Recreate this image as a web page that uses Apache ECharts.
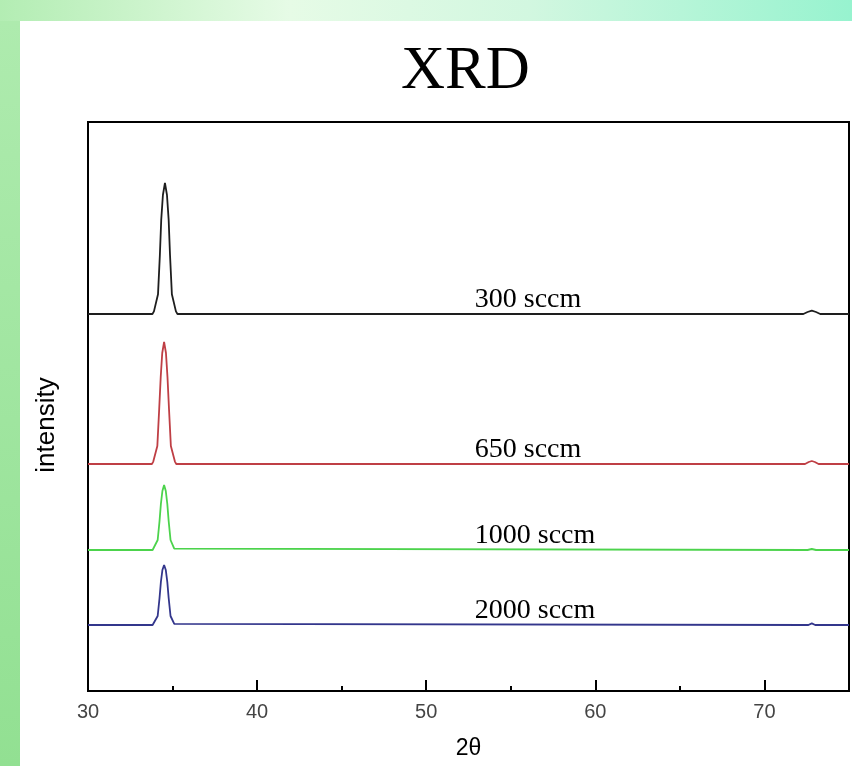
<!DOCTYPE html>
<html>
<head>
<meta charset="utf-8">
<title>XRD</title>
<script src="https://cdn.jsdelivr.net/npm/echarts@6/dist/echarts.min.js"></script>
<style>
  html, body { margin: 0; padding: 0; background: #fff; }
  #chart { width: 852px; height: 766px; }
</style>
</head>
<body>
<div id="chart"></div>
<script>
// sample names and where their labels sit (2θ, intensity)
var sampleNames = ['300 sccm', '650 sccm', '1000 sccm', '2000 sccm'];
var sampleColors = ['#1e1e1e', '#bf3f45', '#4cd34c', '#33368c'];
var labelX = [52.9, 52.9, 52.9, 52.9];
var labelY = [377, 227, 141, 66];

var xTicks = [30, 40, 50, 60, 70];

// curves: [2θ, intensity (offset, a.u.)]
var curve300 = [
    [30, 377], [33.81, 377], [33.9, 379.6], [34.14, 396.7], [34.25, 436], [34.33, 471],
    [34.43, 496], [34.55, 508], [34.67, 496], [34.77, 471], [34.85, 436], [34.96, 396.7],
    [35.2, 379.6], [35.29, 377], [41.9, 377], [42.0, 378.2], [42.1, 377],
    [72.3, 377], [72.55, 379], [72.8, 380.4], [73.05, 379], [73.3, 377], [75, 377]
];
var curve650 = [
    [30, 227], [33.78, 227], [33.86, 229.4], [34.1, 245], [34.21, 282], [34.3, 314],
    [34.39, 338], [34.5, 349], [34.61, 338], [34.7, 314], [34.79, 282], [34.9, 245],
    [35.14, 229.4], [35.22, 227], [72.4, 227], [72.62, 229], [72.8, 230], [72.98, 229], [73.2, 227], [75, 227]
];
var curve1000 = [
    [30, 141], [33.82, 141], [33.9, 142.3], [34.12, 151], [34.23, 170], [34.31, 187],
    [34.4, 200], [34.5, 206], [34.6, 200], [34.69, 187], [34.77, 170], [34.88, 151],
    [35.1, 142.3], [35.18, 141], [72.55, 141], [72.8, 142], [73.05, 141], [75, 141]
];
var curve2000 = [
    [30, 66], [33.82, 66], [33.9, 67.2], [34.12, 75], [34.23, 93], [34.31, 109],
    [34.4, 121], [34.5, 126], [34.6, 121], [34.69, 109], [34.77, 93], [34.88, 75],
    [35.1, 67.2], [35.18, 66], [72.6, 66], [72.8, 67.6], [73.0, 66], [75, 66]
];
var curves = [curve300, curve650, curve1000, curve2000];

var myChart = echarts.init(document.getElementById('chart'), null, { renderer: 'canvas' });

var series = curves.map(function (c, i) {
    return {
        name: sampleNames[i],
        type: 'line',
        data: c,
        showSymbol: false,
        silent: true,
        lineStyle: { color: sampleColors[i], width: 1.8 },
        z: 3
    };
});
// text labels next to each curve
series.push({
    type: 'scatter',
    symbolSize: 1,
    silent: true,
    itemStyle: { color: '#fff', opacity: 0 },
    data: sampleNames.map(function (n, i) { return [labelX[i], labelY[i], n]; }),
    label: {
        show: true,
        position: [0, 0],
        align: 'left',
        verticalAlign: 'bottom',
        formatter: function (p) { return p.data[2]; },
        fontFamily: '"Liberation Serif", "Times New Roman", serif',
        fontSize: 28,
        lineHeight: 28,
        color: '#000',
        opacity: 1
    },
    labelLayout: { hideOverlap: false },
    z: 4
});

var option = {
    backgroundColor: '#ffffff',
    animation: false,
    title: {
        text: 'XRD',
        left: 401,
        top: 42,
        padding: 0,
        textStyle: {
            fontFamily: '"Liberation Serif", "Times New Roman", serif',
            fontSize: 61,
            fontWeight: 'normal',
            lineHeight: 60,
            color: '#000'
        }
    },
    graphic: [
        {
            type: 'rect',
            shape: { x: 0, y: 0, width: 852, height: 21 },
            style: {
                fill: new echarts.graphic.LinearGradient(0, 0, 1, 0, [
                    { offset: 0, color: '#b3edb3' },
                    { offset: 0.34, color: '#e6fbe6' },
                    { offset: 0.62, color: '#d2f7e0' },
                    { offset: 1, color: '#97f3cf' }
                ])
            },
            silent: true
        },
        {
            type: 'rect',
            shape: { x: 0, y: 21, width: 20, height: 745 },
            style: {
                fill: new echarts.graphic.LinearGradient(0, 0, 0, 1, [
                    { offset: 0, color: '#aeebae' },
                    { offset: 1, color: '#92e092' }
                ])
            },
            silent: true
        },
        {
            type: 'text',
            x: 47,
            y: 425,
            rotation: Math.PI / 2,
            silent: true,
            style: {
                text: 'intensity',
                font: '26px "Liberation Sans", Arial, sans-serif',
                fill: '#000',
                textAlign: 'center',
                textVerticalAlign: 'middle'
            }
        }
    ],
    grid: {
        left: 88,
        right: 2,
        top: 122,
        bottom: 75,
        show: true,
        borderColor: '#000',
        borderWidth: 2,
        backgroundColor: 'transparent'
    },
    xAxis: {
        type: 'value',
        min: 30,
        max: 75,
        interval: 10,
        name: '2θ',
        nameLocation: 'middle',
        nameGap: 46,
        nameTextStyle: {
            fontFamily: '"Liberation Sans", Arial, sans-serif',
            fontSize: 23,
            color: '#000'
        },
        axisLine: { show: true, lineStyle: { color: '#000', width: 2 } },
        axisTick: { show: true, inside: true, length: 11, lineStyle: { color: '#000', width: 2 } },
        minorTick: { show: true, splitNumber: 2, length: 5, lineStyle: { color: '#000', width: 2 } },
        splitLine: { show: false },
        axisLabel: {
            margin: 11,
            fontFamily: '"Liberation Sans", Arial, sans-serif',
            fontSize: 20,
            color: '#444',
            formatter: function (v) { return xTicks.indexOf(v) >= 0 ? String(v) : ''; }
        }
    },
    yAxis: {
        type: 'value',
        min: 0,
        max: 569,
        axisLine: { show: true, lineStyle: { color: '#000', width: 2 } },
        axisTick: { show: false },
        axisLabel: { show: false },
        splitLine: { show: false }
    },
    series: series
};

myChart.setOption(option);
</script>
</body>
</html>
